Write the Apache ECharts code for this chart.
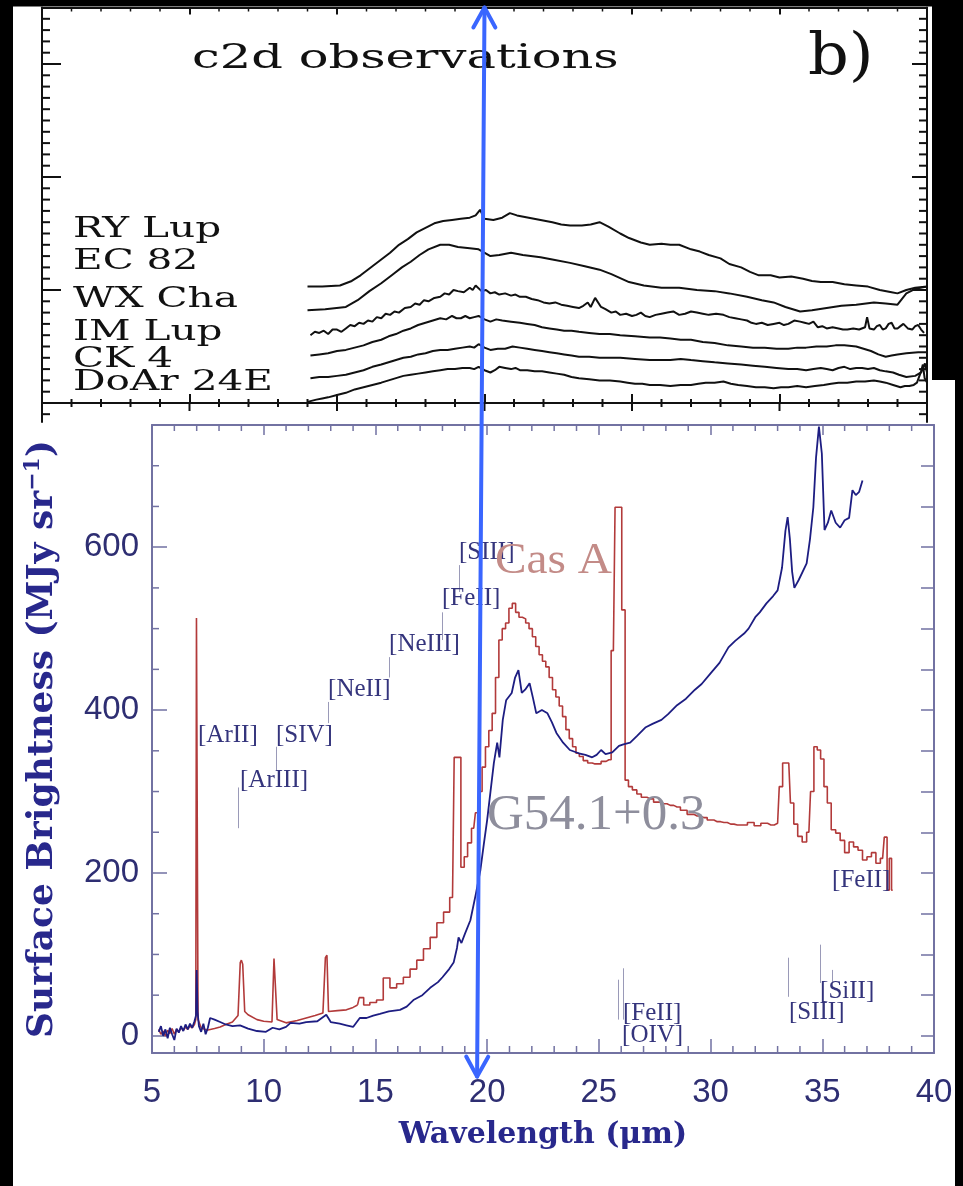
<!DOCTYPE html>
<html><head><meta charset="utf-8">
<script src="https://cdn.jsdelivr.net/npm/echarts@6/dist/echarts.min.js"></script>
<style>html,body{margin:0;padding:0;background:#000;}#c{width:963px;height:1186px;}</style>
</head><body><div id="c"></div>
<script>
// ---------------- DATA ----------------
// Top panel (c2d observations): wavelength (um) vs offset flux (arbitrary units)
const c2dNames = ['RY Lup', 'EC 82', 'WX Cha', 'IM Lup', 'CK 4', 'DoAr 24E'];
const ryLup = [[14.0,1.03],[14.5,1.03],[15.1,1.04],[15.5,1.08],[15.8,1.13],[16.1,1.19],[16.5,1.27],[16.8,1.33],[17.1,1.40],[17.4,1.45],[17.7,1.51],[18.0,1.55],[18.3,1.59],[18.6,1.61],[18.9,1.62],[19.2,1.63],[19.5,1.64],[19.7,1.66],[19.85,1.71],[20.0,1.63],[20.3,1.62],[20.6,1.64],[20.86,1.68],[21.1,1.66],[21.5,1.64],[21.9,1.62],[22.3,1.60],[22.6,1.58],[22.9,1.57],[23.3,1.57],[23.6,1.58],[23.9,1.60],[24.2,1.56],[24.6,1.50],[24.9,1.46],[25.3,1.42],[25.6,1.40],[26.0,1.41],[26.3,1.40],[26.6,1.40],[27.0,1.36],[27.3,1.34],[27.6,1.31],[28.0,1.28],[28.3,1.23],[28.7,1.20],[29.0,1.16],[29.3,1.13],[29.7,1.13],[30.0,1.11],[30.4,1.12],[30.8,1.10],[31.1,1.08],[31.4,1.07],[31.8,1.07],[32.2,1.05],[32.6,1.04],[33.0,1.03],[33.4,1.00],[33.8,0.98],[34.0,0.97],[34.3,1.00],[34.6,1.02],[35.0,1.03]];
const ec82 = [[14.0,0.82],[14.6,0.83],[15.3,0.85],[15.7,0.91],[16.1,0.99],[16.5,1.06],[16.9,1.14],[17.2,1.20],[17.5,1.25],[17.8,1.31],[18.1,1.36],[18.5,1.40],[18.8,1.40],[19.1,1.38],[19.5,1.37],[19.8,1.36],[20.2,1.30],[20.5,1.31],[20.9,1.33],[21.3,1.31],[21.9,1.29],[22.3,1.27],[22.9,1.24],[23.4,1.21],[23.9,1.18],[24.3,1.14],[24.9,1.07],[25.4,1.04],[26.0,1.02],[26.6,1.02],[27.2,1.00],[27.8,0.99],[28.3,0.97],[28.9,0.94],[29.4,0.91],[29.8,0.89],[30.2,0.85],[30.7,0.81],[31.1,0.82],[31.6,0.84],[32.1,0.86],[32.6,0.87],[33.2,0.89],[33.6,0.88],[34.0,0.87],[34.3,0.97],[34.6,1.01],[35.0,1.03]];
const wxCha = [[14.1,0.60],[14.25,0.63],[14.4,0.62],[14.55,0.64],[14.7,0.61],[14.85,0.65],[15.0,0.65],[15.15,0.63],[15.3,0.66],[15.45,0.69],[15.6,0.68],[15.75,0.71],[15.9,0.70],[16.05,0.73],[16.2,0.72],[16.35,0.76],[16.5,0.75],[16.65,0.79],[16.8,0.78],[16.95,0.81],[17.1,0.80],[17.3,0.84],[17.5,0.85],[17.65,0.88],[17.8,0.87],[17.95,0.91],[18.1,0.90],[18.3,0.93],[18.5,0.94],[18.65,0.97],[18.8,0.96],[18.95,1.00],[19.1,0.99],[19.3,0.98],[19.5,1.02],[19.6,1.00],[19.7,1.04],[19.9,0.99],[20.05,1.00],[20.2,0.97],[20.35,0.98],[20.5,0.96],[20.7,0.97],[20.9,0.95],[21.05,0.96],[21.2,0.94],[21.4,0.94],[21.6,0.92],[21.8,0.91],[22.0,0.89],[22.2,0.88],[22.4,0.89],[22.6,0.87],[22.8,0.86],[23.0,0.85],[23.2,0.84],[23.35,0.86],[23.5,0.89],[23.6,0.85],[23.75,0.93],[23.95,0.85],[24.1,0.83],[24.3,0.80],[24.45,0.81],[24.6,0.78],[24.8,0.79],[25.0,0.77],[25.15,0.78],[25.3,0.80],[25.45,0.77],[25.6,0.76],[25.8,0.78],[26.0,0.79],[26.2,0.80],[26.4,0.81],[26.6,0.78],[26.8,0.79],[27.0,0.81],[27.2,0.80],[27.4,0.79],[27.6,0.78],[27.85,0.79],[28.1,0.78],[28.3,0.76],[28.5,0.75],[28.7,0.74],[28.9,0.73],[29.05,0.71],[29.2,0.70],[29.4,0.71],[29.6,0.69],[29.8,0.70],[30.0,0.71],[30.15,0.69],[30.3,0.70],[30.5,0.73],[30.7,0.72],[30.85,0.71],[31.0,0.70],[31.15,0.72],[31.3,0.67],[31.45,0.68],[31.6,0.66],[31.8,0.67],[32.0,0.66],[32.15,0.65],[32.3,0.65],[32.5,0.66],[32.7,0.65],[32.9,0.67],[32.97,0.76],[33.05,0.66],[33.2,0.65],[33.3,0.68],[33.4,0.69],[33.5,0.65],[33.6,0.66],[33.7,0.70],[33.8,0.71],[33.9,0.66],[34.0,0.66],[34.1,0.68],[34.2,0.70],[34.35,0.66],[34.5,0.65],[34.6,0.68],[34.7,0.69],[34.8,0.65],[34.9,0.62]];
const imLup = [[14.1,0.42],[14.4,0.43],[14.7,0.44],[15.0,0.46],[15.3,0.47],[15.6,0.49],[15.9,0.51],[16.2,0.54],[16.5,0.56],[16.75,0.59],[17.0,0.61],[17.25,0.64],[17.5,0.66],[17.75,0.69],[18.0,0.71],[18.25,0.73],[18.5,0.75],[18.7,0.74],[18.9,0.77],[19.05,0.75],[19.2,0.75],[19.35,0.77],[19.5,0.75],[19.65,0.76],[19.8,0.77],[20.0,0.74],[20.2,0.72],[20.4,0.74],[20.6,0.73],[20.9,0.72],[21.2,0.71],[21.45,0.70],[21.7,0.69],[21.95,0.67],[22.2,0.66],[22.45,0.65],[22.7,0.64],[22.95,0.64],[23.2,0.63],[23.55,0.62],[23.9,0.61],[24.25,0.61],[24.6,0.60],[25.1,0.59],[25.6,0.58],[25.95,0.58],[26.3,0.57],[26.65,0.56],[27.0,0.56],[27.4,0.54],[27.8,0.53],[28.25,0.51],[28.7,0.50],[29.1,0.49],[29.5,0.49],[29.9,0.48],[30.3,0.48],[30.6,0.49],[30.9,0.49],[31.25,0.50],[31.6,0.50],[31.9,0.51],[32.2,0.51],[32.6,0.50],[32.85,0.48],[33.1,0.46],[33.35,0.43],[33.6,0.41],[33.8,0.42],[34.0,0.43],[34.3,0.44],[34.7,0.45],[35.0,0.45]];
const ck4 = [[14.1,0.22],[14.4,0.23],[14.7,0.23],[15.0,0.24],[15.3,0.25],[15.6,0.27],[15.9,0.29],[16.2,0.32],[16.5,0.34],[16.75,0.36],[17.0,0.38],[17.25,0.40],[17.5,0.41],[17.75,0.43],[18.0,0.44],[18.25,0.46],[18.5,0.47],[18.75,0.47],[19.0,0.48],[19.25,0.49],[19.5,0.50],[19.65,0.49],[19.8,0.52],[20.0,0.49],[20.2,0.47],[20.45,0.48],[20.7,0.48],[20.95,0.50],[21.2,0.49],[21.45,0.48],[21.7,0.47],[21.95,0.46],[22.2,0.45],[22.45,0.44],[22.7,0.43],[22.95,0.42],[23.2,0.41],[23.55,0.41],[23.9,0.40],[24.25,0.40],[24.6,0.40],[25.1,0.39],[25.6,0.38],[25.95,0.38],[26.3,0.38],[26.65,0.39],[27.0,0.38],[27.4,0.37],[27.8,0.36],[28.25,0.35],[28.7,0.34],[29.1,0.33],[29.5,0.32],[29.9,0.31],[30.3,0.30],[30.6,0.30],[30.9,0.29],[31.15,0.30],[31.4,0.31],[31.6,0.30],[31.8,0.29],[32.0,0.31],[32.2,0.32],[32.4,0.30],[32.6,0.31],[32.8,0.31],[33.0,0.30],[33.2,0.31],[33.4,0.29],[33.6,0.28],[33.85,0.27],[34.05,0.25],[34.3,0.23],[34.6,0.24],[34.8,0.27],[34.93,0.35],[35.0,0.27]];
const doAr24E = [[14.0,0.01],[14.3,0.03],[14.5,0.04],[14.7,0.05],[15.0,0.07],[15.3,0.09],[15.6,0.12],[15.9,0.14],[16.2,0.16],[16.5,0.18],[16.75,0.20],[17.0,0.22],[17.25,0.24],[17.5,0.25],[17.75,0.26],[18.0,0.27],[18.25,0.28],[18.5,0.29],[18.75,0.30],[19.0,0.30],[19.25,0.31],[19.5,0.31],[19.65,0.30],[19.8,0.32],[20.0,0.29],[20.2,0.27],[20.35,0.29],[20.5,0.32],[20.7,0.31],[20.9,0.30],[21.05,0.31],[21.2,0.29],[21.45,0.29],[21.7,0.28],[21.95,0.28],[22.2,0.27],[22.45,0.26],[22.7,0.25],[22.95,0.23],[23.2,0.22],[23.55,0.21],[23.9,0.20],[24.25,0.20],[24.6,0.19],[24.85,0.18],[25.1,0.17],[25.35,0.17],[25.6,0.16],[25.95,0.16],[26.3,0.15],[26.65,0.16],[27.0,0.16],[27.25,0.17],[27.5,0.18],[27.8,0.18],[28.1,0.19],[28.35,0.17],[28.6,0.16],[28.9,0.15],[29.2,0.14],[29.5,0.14],[29.8,0.13],[30.05,0.14],[30.3,0.14],[30.6,0.15],[30.9,0.14],[31.2,0.15],[31.5,0.16],[31.75,0.17],[32.0,0.18],[32.3,0.18],[32.6,0.19],[32.9,0.19],[33.2,0.20],[33.4,0.19],[33.6,0.18],[33.85,0.16],[34.1,0.14],[34.25,0.15],[34.4,0.15],[34.55,0.16],[34.66,0.18],[34.8,0.28],[34.86,0.34],[34.92,0.22],[35.0,0.18]];
const c2dSeries = [ryLup, ec82, wxCha, imLup, ck4, doAr24E];

// Bottom panel: Surface brightness (MJy/sr) vs wavelength (um)
const casA_SL = [[5.3,8],[5.4,2],[5.5,6],[5.6,0],[5.7,7],[5.8,3],[5.9,9],[6.0,2],[6.1,8],[6.2,5],[6.3,10],[6.4,7],[6.5,11],[6.6,8],[6.7,12],[6.8,10],[6.9,14],[6.96,20],[6.99,513],[7.03,513],[7.06,20],[7.2,10],[7.46,7],[7.8,9],[8.05,11],[8.3,14],[8.6,17],[8.85,25],[8.95,90],[9.0,93],[9.06,88],[9.15,30],[9.3,26],[9.7,20],[10.0,18],[10.37,17],[10.46,95],[10.52,97],[10.6,20],[11.0,16],[11.5,19],[11.9,22],[12.3,25],[12.65,28],[12.76,96],[12.83,99],[12.9,30],[13.3,31],[13.7,32],[14.0,35],[14.2,38]];
const casA_LL = [[14.2,38],[14.35,47],[14.6,38],[14.9,41],[15.2,44],[15.5,71],[15.8,59],[16.1,64],[16.4,72],[16.7,82],[17.0,93],[17.3,107],[17.6,121],[17.9,139],[18.2,152],[18.45,170],[18.6,342],[18.75,342],[18.9,207],[19.05,220],[19.2,237],[19.4,255],[19.55,274],[19.7,300],[19.85,330],[20.0,355],[20.15,375],[20.3,396],[20.45,440],[20.6,486],[20.75,500],[20.9,507],[21.05,525],[21.2,531],[21.35,520],[21.5,514],[21.65,512],[21.8,507],[21.95,500],[22.1,490],[22.25,478],[22.4,468],[22.55,460],[22.7,453],[22.85,440],[23.0,425],[23.15,416],[23.3,405],[23.45,392],[23.6,376],[23.75,365],[23.9,355],[24.05,347],[24.2,343],[24.4,338],[24.6,335],[24.8,334],[25.0,334],[25.2,337],[25.45,339],[25.65,473],[25.8,649],[25.95,649],[26.1,523],[26.25,314],[26.4,306],[26.6,302],[26.8,297],[27.0,293],[27.3,291],[27.6,287],[27.9,285],[28.2,283],[28.5,281],[28.8,277],[29.1,272],[29.4,270],[29.7,268],[30.0,265],[30.3,263],[30.6,262],[30.9,260],[31.2,259],[31.5,259],[31.8,262],[32.1,258],[32.4,261],[32.7,259],[33.0,261],[33.15,306],[33.3,335],[33.5,335],[33.65,286],[33.8,260],[34.0,245],[34.2,238],[34.4,250],[34.55,300],[34.7,355],[34.85,351],[35.0,340],[35.15,306],[35.3,286],[35.5,253],[35.7,249],[35.9,240],[36.1,225],[36.3,238],[36.5,232],[36.7,228],[36.9,216],[37.1,220],[37.3,225],[37.5,212],[37.7,218],[37.85,244],[37.95,179],[38.05,218],[38.15,179]];
const g54 = [[5.3,5],[5.4,12],[5.5,0],[5.6,8],[5.7,-3],[5.8,10],[5.9,2],[6.0,-5],[6.1,9],[6.2,4],[6.3,12],[6.4,6],[6.5,14],[6.6,8],[6.7,15],[6.8,10],[6.9,18],[6.97,25],[7.0,81],[7.04,30],[7.1,12],[7.2,5],[7.3,15],[7.4,2],[7.5,10],[7.6,22],[7.8,20],[8.05,17],[8.3,14],[8.6,12],[8.94,13],[9.3,9],[9.7,6],[10.1,5],[10.4,10],[10.7,8],[11.0,11],[11.2,16],[11.6,15],[11.9,17],[12.4,18],[12.8,26],[13.0,17],[13.4,15],[13.7,13],[14.0,11],[14.3,22],[14.6,22],[14.9,25],[15.2,27],[15.6,30],[16.1,32],[16.4,36],[16.7,44],[17.1,50],[17.45,59],[17.8,66],[18.0,72],[18.3,82],[18.5,90],[18.65,108],[18.72,121],[18.85,114],[19.0,125],[19.25,142],[19.5,175],[19.7,204],[19.85,235],[20.0,265],[20.15,300],[20.3,335],[20.45,360],[20.55,342],[20.7,388],[20.85,412],[21.1,421],[21.25,440],[21.4,449],[21.55,421],[21.7,425],[21.9,433],[22.05,415],[22.2,396],[22.45,400],[22.7,396],[22.9,385],[23.1,372],[23.4,360],[23.7,351],[24.1,347],[24.4,345],[24.7,342],[24.9,345],[25.1,351],[25.3,346],[25.6,348],[25.9,356],[26.1,358],[26.4,360],[26.7,368],[27.1,379],[27.4,383],[27.8,388],[28.1,395],[28.5,406],[28.9,414],[29.3,425],[29.6,432],[30.0,445],[30.4,458],[30.8,477],[31.1,485],[31.5,494],[31.7,500],[32.0,514],[32.2,520],[32.5,531],[32.8,540],[33.0,547],[33.2,575],[33.35,620],[33.45,637],[33.55,610],[33.65,570],[33.75,550],[33.95,560],[34.3,580],[34.45,610],[34.6,649],[34.72,710],[34.85,748],[34.98,715],[35.1,621],[35.25,630],[35.4,645],[35.6,630],[35.8,624],[36.0,633],[36.2,636],[36.35,670],[36.5,664],[36.65,668],[36.8,682]];

// Tick positions / labels
const topXMajor = [5, 10, 15, 20, 25, 30, 35];
const topXMinor = [6,7,8,9,11,12,13,14,16,17,18,19,21,22,23,24,26,27,28,29,31,32,33,34];
const topYMajor = [0, 1, 2, 3];
const topYMinor = [0.1,0.2,0.3,0.4,0.5,0.6,0.7,0.8,0.9,1.1,1.2,1.3,1.4,1.5,1.6,1.7,1.8,1.9,2.1,2.2,2.3,2.4,2.5,2.6,2.7,2.8,2.9,3.1,3.2,3.3,3.4];
const topYBelow = [-0.1];
const lowXMinor = [6,7,8,9,11,12,13,14,16,17,18,19,21,22,23,24,26,27,28,29,31,32,33,34,36,37,38,39];
const yTickLabels = [0, 200, 400, 600];
const yTickMinor = [50, 100, 150, 250, 300, 350, 450, 500, 550, 650, 700, 750];
const yTickRight = [0, 50, 100, 150, 200, 250, 300, 350, 400, 450, 500, 550, 600, 650, 700, 750];

// Spectral line identifications: [label, wavelength of label left edge, value of label centre]
const lineIds = [['[ArII]',7.06,369],['[ArIII]',8.94,314],['[SIV]',10.55,369],['[NeII]',12.88,425],['[NeIII]',15.61,481],['[FeII]',17.98,537],['[SIII]',18.74,594],['[FeII]',26.08,28],['[OIV]',26.04,1],['[SIII]',33.51,29],['[SiII]',34.9,54],['[FeII]',35.44,191]];
// Connector ticks: [wavelength, from, to]
const lineTicks = [[8.85,305,255],[10.55,355,326],[12.88,410,384],[15.61,465,440],[17.98,520,486],[18.74,578,545],[25.86,69,20],[26.08,83,20],[33.47,96,48],[34.9,112,65],[35.44,81,60]];

// ---------------- CHART ----------------
const chart = echarts.init(document.getElementById('c'), null, {renderer: 'canvas'});
const AX = '#111';
const LAX = '#7272a2';
const hid = {show: false};

function g(r) { return Object.assign({outerBoundsMode: 'none', containLabel: false}, r); }
function frameAxis(gi, pos, min, max, vals, len, color, w) {
  const a = {gridIndex: gi, type: 'value', position: pos, min: min, max: max,
    axisLine: {show: true, onZero: false, lineStyle: {color: color, width: 2}},
    axisTick: {show: !!vals, inside: true, length: len, lineStyle: {color: color, width: w}},
    axisLabel: hid, splitLine: hid};
  if (vals) a.axisTick.customValues = vals;
  return a;
}

const option = {
  animation: false,
  backgroundColor: '#ffffff',
  grid: [
    g({left: 42, top: 7.5, width: 885, height: 395.5}),
    g({left: 42, top: 403, width: 885, height: 19}),
    g({left: 152, top: 425, width: 782, height: 628})
  ],
  xAxis: [
    frameAxis(0, 'bottom', 5, 35, topXMajor, 9, AX, 2),
    frameAxis(0, 'top', 5, 35, topXMajor, 7, AX, 2),
    {gridIndex: 1, type: 'value', min: 5, max: 35, show: false},
    {gridIndex: 2, type: 'value', position: 'bottom', min: 5, max: 40, interval: 5,
     axisLine: {onZero: false, lineStyle: {color: LAX, width: 2}},
     axisTick: {inside: true, length: 14, lineStyle: {color: LAX, width: 1.5}},
     axisLabel: {show: true, margin: 23, color: '#2e2e72', fontFamily: 'Liberation Sans', fontSize: 33, showMinLabel: true, showMaxLabel: true},
     splitLine: hid,
     name: 'Wavelength (μm)', nameLocation: 'middle', nameGap: 67,
     nameTextStyle: {fontFamily: 'DejaVu Serif', fontWeight: 'bold', fontSize: 30, color: '#28288c'}},
    frameAxis(2, 'top', 5, 40, [5,10,15,20,25,30,35,40], 10, LAX, 1.5)
  ],
  yAxis: [
    frameAxis(0, 'left', 0, 3.5, topYMajor, 19, AX, 2),
    frameAxis(0, 'right', 0, 3.5, topYMajor, 15, AX, 2),
    frameAxis(1, 'left', -0.17, 0, null, 0, AX, 2),
    frameAxis(1, 'right', -0.17, 0, null, 0, AX, 2),
    {gridIndex: 2, type: 'value', position: 'left', min: -21, max: 750,
     axisLine: {onZero: false, lineStyle: {color: LAX, width: 2}},
     axisTick: {inside: true, length: 15, customValues: yTickLabels, lineStyle: {color: LAX, width: 1.5}},
     axisLabel: {show: true, customValues: yTickLabels, margin: 13, color: '#2e2e72', fontFamily: 'Liberation Sans', fontSize: 33},
     splitLine: hid,
     name: '{n|Surface Brightness (MJy sr}{s|−1}{n|)}', nameLocation: 'middle', nameGap: 88, nameRotate: 90,
     nameTextStyle: {fontFamily: 'DejaVu Serif', fontWeight: 'bold', fontSize: 36, color: '#28288c',
       rich: {
         n: {fontFamily: 'DejaVu Serif', fontWeight: 'bold', fontSize: 36, color: '#28288c', lineHeight: 42},
         s: {fontFamily: 'DejaVu Serif', fontWeight: 'bold', fontSize: 22, color: '#28288c', lineHeight: 22, verticalAlign: 'top'}
       }}},
    frameAxis(2, 'right', -21, 750, yTickRight, 13, LAX, 1.5)
  ],
  series: [],
  graphic: []
};

c2dSeries.forEach((d, i) => {
  option.series.push({
    name: c2dNames[i], type: 'line', xAxisIndex: 0, yAxisIndex: 0, data: d,
    showSymbol: false, symbol: 'none', silent: true,
    lineStyle: {color: '#111', width: 2}
  });
});
option.series.push({
  name: 'Cas A', type: 'line', xAxisIndex: 3, yAxisIndex: 4, data: casA_SL,
  showSymbol: false, symbol: 'none', silent: true, lineStyle: {color: '#b23a3a', width: 1.6}
});
option.series.push({
  name: 'Cas A LL', type: 'line', step: 'middle', xAxisIndex: 3, yAxisIndex: 4, data: casA_LL,
  showSymbol: false, symbol: 'none', silent: true, lineStyle: {color: '#b23a3a', width: 1.6}
});
option.series.push({
  name: 'G54.1+0.3', type: 'line', xAxisIndex: 3, yAxisIndex: 4, data: g54,
  showSymbol: false, symbol: 'none', silent: true, lineStyle: {color: '#1d1d82', width: 1.8},
  markLine: {
    silent: true, symbol: ['none', 'none'], animation: false,
    label: {show: false}, emphasis: {disabled: true},
    lineStyle: {color: '#9a9ab8', width: 1, type: 'solid'},
    data: lineTicks.map(t => [{coord: [t[0], t[1]]}, {coord: [t[0], t[2]]}])
  },
  markPoint: {
    silent: true, symbol: 'circle', symbolSize: 0, animation: false,
    itemStyle: {color: 'rgba(0,0,0,0)'},
    label: {show: true, position: 'right', distance: 0, formatter: p => p.name,
            fontFamily: 'Liberation Serif', fontSize: 25, color: '#34347c'},
    data: lineIds.map(l => ({name: l[0], coord: [l[1], l[2]]}))
  }
});

// Frame (black margins) and text annotations
const txt = (id, text, x, y, font, fill, sx) => ({
  type: 'text', id: id, x: x, y: y, scaleX: sx || 1, silent: true, z: 50,
  style: {text: text, font: font, fill: fill, align: 'left', verticalAlign: 'middle', textAlign: 'left', textVerticalAlign: 'middle'}
});
option.graphic = [
  {type: 'rect', id: 'bL', silent: true, z: 40, shape: {x: 0, y: 0, width: 13, height: 1186}, style: {fill: '#000'}},
  {type: 'rect', id: 'bT', silent: true, z: 40, shape: {x: 0, y: 0, width: 963, height: 6.5}, style: {fill: '#000'}},
  {type: 'rect', id: 'bR1', silent: true, z: 40, shape: {x: 932, y: 0, width: 31, height: 380}, style: {fill: '#000'}},
  {type: 'rect', id: 'bR2', silent: true, z: 40, shape: {x: 955, y: 380, width: 8, height: 806}, style: {fill: '#000'}},
  txt('t0', 'c2d observations', 192, 59, '33px "DejaVu Serif"', '#111', 1.5),
  txt('t1', 'b)', 808, 59, '58px "DejaVu Serif"', '#111', 1.1),
  txt('l0', c2dNames[0], 73, 230, '28px "DejaVu Serif"', '#111', 1.45),
  txt('l1', c2dNames[1], 73, 262, '28px "DejaVu Serif"', '#111', 1.45),
  txt('l2', c2dNames[2], 73, 300, '28px "DejaVu Serif"', '#111', 1.45),
  txt('l3', c2dNames[3], 73, 333, '28px "DejaVu Serif"', '#111', 1.45),
  txt('l4', c2dNames[4], 73, 360, '28px "DejaVu Serif"', '#111', 1.45),
  txt('l5', c2dNames[5], 73, 383, '28px "DejaVu Serif"', '#111', 1.45),
  txt('casA', 'Cas A', 495, 561, '45px "Liberation Serif"', '#c38b87', 1.05),
  txt('g54', 'G54.1+0.3', 487, 816, '51px "Liberation Serif"', '#8e8e9c', 1.0)
];

chart.setOption(option);

// ---- minor tick marks, placed through the axes' own scales ----
const extra = [];
let tid = 0;
function seg(x1, y1, x2, y2, color, w) {
  extra.push({type: 'line', id: 'tk' + (tid++), silent: true, z: 45,
    shape: {x1: x1, y1: y1, x2: x2, y2: y2}, style: {stroke: color, lineWidth: w}});
}
function vTicks(gi, xs, yv, d1, d2, color, w) {
  xs.forEach(x => { const p = chart.convertToPixel({gridIndex: gi}, [x, yv]); seg(p[0], p[1] + d1, p[0], p[1] + d2, color, w); });
}
function hTicks(gi, ys, xv, d1, d2, color, w) {
  ys.forEach(y => { const p = chart.convertToPixel({gridIndex: gi}, [xv, y]); seg(p[0] + d1, p[1], p[0] + d2, p[1], color, w); });
}
// top panel
vTicks(0, topXMinor, 0, -4, 4, AX, 2);       // bottom minor (crossing the line)
vTicks(0, topXMajor, 0, 0, 8, AX, 2);        // bottom major, outside part
vTicks(0, topXMinor, 3.5, 0, 4, AX, 1.5);    // top minor
hTicks(0, topYMinor, 5, 0, 8, AX, 2);        // left minor
hTicks(0, topYMinor, 35, 0, -8, AX, 2);      // right minor
hTicks(1, topYBelow, 5, 0, 8, AX, 2);
hTicks(1, topYBelow, 35, 0, -8, AX, 2);
// lower panel
vTicks(2, lowXMinor, -21, 0, -7, LAX, 1.5);  // bottom minor
vTicks(2, lowXMinor, 750, 0, 6, LAX, 1.5);   // top minor
hTicks(2, yTickMinor, 5, 0, 7, LAX, 1.5);    // left minor

// Blue double-headed arrow linking 20 um on both panels
const pTop = chart.convertToPixel({gridIndex: 0}, [20, 3.5]);
const pBot = chart.convertToPixel({gridIndex: 2}, [19.55, -50]);
const dx = pTop[0] - pBot[0], dy = pTop[1] - pBot[1];
const L = Math.sqrt(dx * dx + dy * dy);
const ux = dx / L, uy = dy / L, nx = -uy, ny = ux;
const AL = 20, AW = 11;
const arrowStyle = {stroke: '#3a66ff', lineWidth: 4, fill: null, lineCap: 'round', lineJoin: 'round'};
extra.push(
  {type: 'line', id: 'arrowShaft', silent: true, z: 100,
   shape: {x1: pTop[0], y1: pTop[1], x2: pBot[0], y2: pBot[1]}, style: arrowStyle},
  {type: 'polyline', id: 'arrowTop', silent: true, z: 100,
   shape: {points: [[pTop[0] - ux * AL + nx * AW, pTop[1] - uy * AL + ny * AW], pTop, [pTop[0] - ux * AL - nx * AW, pTop[1] - uy * AL - ny * AW]]},
   style: arrowStyle},
  {type: 'polyline', id: 'arrowBot', silent: true, z: 100,
   shape: {points: [[pBot[0] + ux * AL + nx * AW, pBot[1] + uy * AL + ny * AW], pBot, [pBot[0] + ux * AL - nx * AW, pBot[1] + uy * AL - ny * AW]]},
   style: arrowStyle}
);
chart.setOption({graphic: extra});
</script></body></html>
